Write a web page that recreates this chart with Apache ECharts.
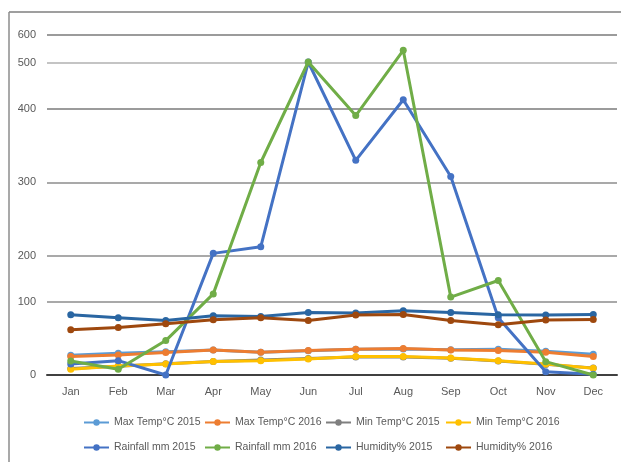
<!DOCTYPE html>
<html>
<head>
<meta charset="utf-8">
<style>
  html, body { margin: 0; padding: 0; background: #ffffff; }
  #chart { width: 621px; height: 462px; }
</style>
<script src="https://cdn.jsdelivr.net/npm/echarts@6.0.0/dist/echarts.min.js"></script>
</head>
<body>
<div id="chart"></div>
<script>
// Monthly weather record, 2015 vs 2016
var months = ['Jan', 'Feb', 'Mar', 'Apr', 'May', 'Jun', 'Jul', 'Aug', 'Sep', 'Oct', 'Nov', 'Dec'];

var maxTemp2015 = [27, 29.7, 31.9, 34, 31, 33, 35, 35.5, 34.5, 35.2, 32.4, 28.4];
var maxTemp2016 = [25.1, 27.4, 30.6, 34.2, 31.1, 33.3, 35.2, 36, 34.2, 33.3, 31.1, 25.1];
var minTemp2015 = [9, 12, 15.5, 18.5, 20.5, 22.5, 24.5, 24.5, 23, 19, 14.5, 9.5];
var minTemp2016 = [7.8, 12.3, 15, 18.3, 19.6, 21.9, 25.1, 25.1, 23.3, 19.6, 15, 9.2];
var rainfall2015 = [15, 19.6, 0, 203, 212, 503, 330, 420, 308, 78, 4.5, 1];
var rainfall2016 = [19.2, 7.8, 47, 117, 327, 503, 391, 545, 110, 146, 18.2, 0];
var humidity2015 = [82.2, 78, 74.4, 80.8, 79.9, 85.3, 84.5, 87.7, 85.3, 82.2, 81.8, 82.6];
var humidity2016 = [61.6, 64.8, 69.9, 75.3, 78.1, 74.4, 81.8, 82.6, 74.4, 68.5, 74.9, 75.8];

var yTicks = [0, 100, 200, 300, 400, 500, 600];

var seriesNames = [
  'Max Temp°C 2015', 'Max Temp°C 2016', 'Min Temp°C 2015', 'Min Temp°C 2016',
  'Rainfall mm 2015', 'Rainfall mm 2016', 'Humidity% 2015', 'Humidity% 2016'
];
var seriesData = [
  maxTemp2015, maxTemp2016, minTemp2015, minTemp2016,
  rainfall2015, rainfall2016, humidity2015, humidity2016
];
var seriesColors = [
  '#5B9BD5', '#ED7D31', '#7F7F7F', '#FFC000',
  '#4472C4', '#70AD47', '#2A66A2', '#9E480E'
];

var FONT = 'Liberation Sans';
var TEXT = '#595959';

var chart = echarts.init(document.getElementById('chart'), null, { renderer: 'canvas' });

// the legend is laid out as four columns of two entries each
var legendColumnsLeft = [83, 204, 325, 445];

function legendColumn(col) {
  return {
    left: legendColumnsLeft[col],
    top: 417,
    padding: 0,
    orient: 'vertical',
    itemGap: 14,
    itemWidth: 25,
    itemHeight: 8,
    data: [seriesNames[col], seriesNames[col + 4]],
    textStyle: { fontFamily: FONT, fontSize: 10.5, color: TEXT }
  };
}

var option = {
  animation: false,
  backgroundColor: '#ffffff',
  graphic: [
    { type: 'line', shape: { x1: 9, y1: 12, x2: 621, y2: 12 }, style: { stroke: '#7f7f7f', lineWidth: 1.5 } },
    { type: 'line', shape: { x1: 9, y1: 12, x2: 9, y2: 462 }, style: { stroke: '#8c8c8c', lineWidth: 1.5 } }
  ],
  legend: [legendColumn(0), legendColumn(1), legendColumn(2), legendColumn(3)],
  grid: { left: 47, right: 4, top: 35, bottom: 87, containLabel: false },
  xAxis: {
    type: 'category',
    data: months,
    boundaryGap: true,
    axisLine: { lineStyle: { color: '#404040', width: 2 } },
    axisTick: { show: false },
    axisLabel: { fontFamily: FONT, fontSize: 11, color: TEXT, margin: 11 }
  },
  yAxis: {
    type: 'value',
    min: 0,
    max: 600,
    breaks: [
      { start: 100, end: 200, gap: 63 },
      { start: 400, end: 500, gap: 63 },
      { start: 500, end: 600, gap: 38 }
    ],
    breakArea: { show: false },
    axisLine: { show: false },
    axisTick: { show: false, customValues: yTicks },
    axisLabel: { customValues: yTicks, fontFamily: FONT, fontSize: 11, color: TEXT, margin: 11 },
    splitLine: {
      show: true,
      lineStyle: { color: ['#7a7a7a', '#8c8c8c', '#8c8c8c', '#8c8c8c', '#7a7a7a', '#b0b0b0', '#7a7a7a'], width: 1.5 }
    }
  },
  series: seriesNames.map(function (name, i) {
    return {
      name: name,
      type: 'line',
      data: seriesData[i],
      symbol: 'circle',
      symbolSize: 7,
      color: seriesColors[i],
      lineStyle: { width: 3, color: seriesColors[i] },
      itemStyle: { color: seriesColors[i] },
      z: 2 + i
    };
  })
};

chart.setOption(option);
</script>
</body>
</html>
